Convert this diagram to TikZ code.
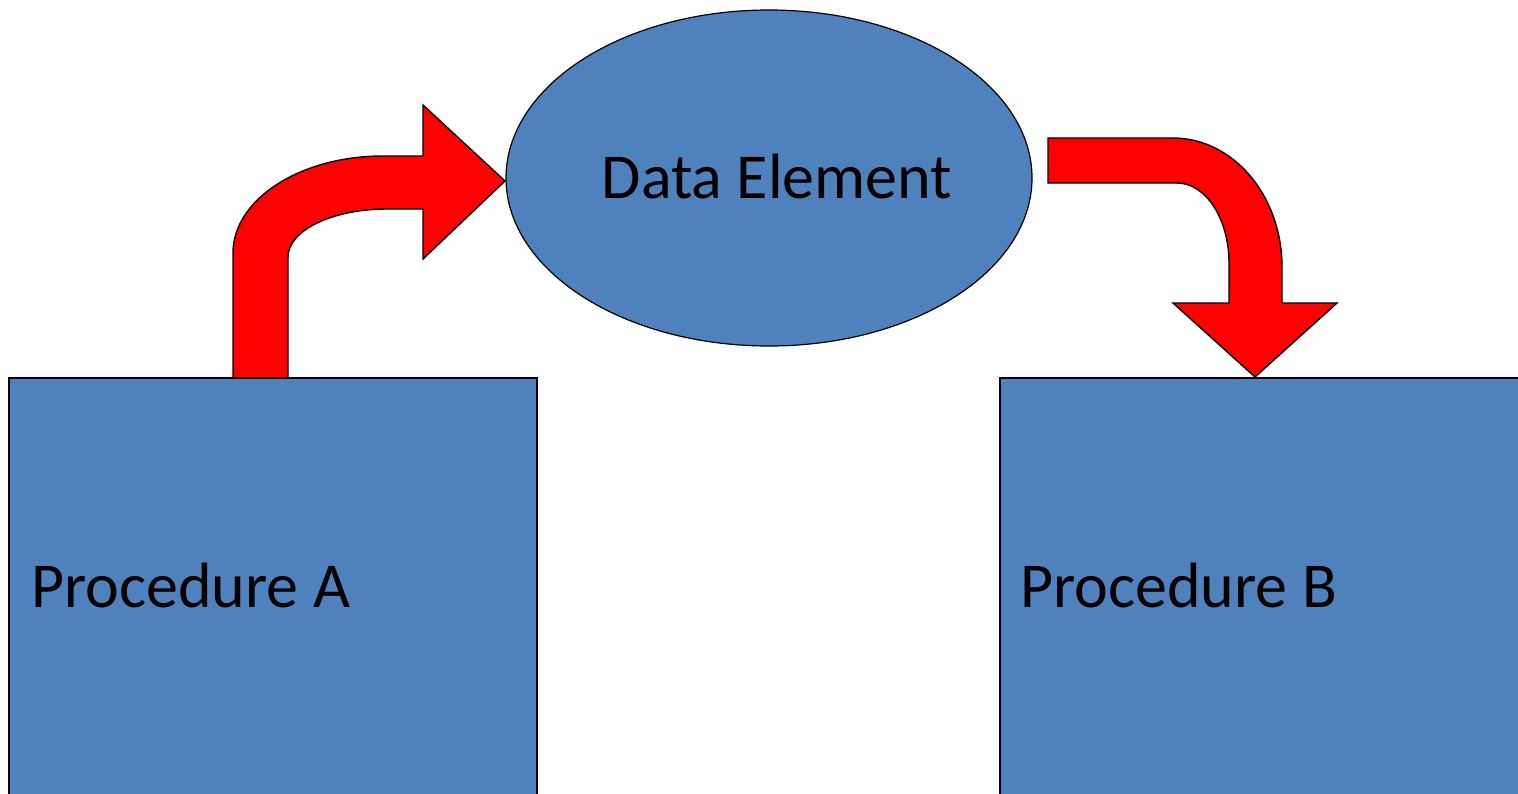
\documentclass[tikz,border=0pt]{standalone}
\usepackage{fontspec}
\setmainfont{Carlito}
\usetikzlibrary{shapes.geometric}
\definecolor{procblue}{HTML}{4F81BD}
\tikzset{
  procbox/.style={rectangle,draw,line width=2pt,fill=procblue,outer sep=0pt,anchor=north west},
  dataelem/.style={ellipse,draw,line width=1.2pt,fill=procblue,outer sep=0pt,
    minimum width=526pt,minimum height=336pt},
  lbl/.style={inner sep=0pt,font=\fontsize{64pt}{76pt}\selectfont},
  flow/.style={draw,line width=1.4pt,fill=red,line join=miter}
}
\begin{document}
\begin{tikzpicture}[x=1pt,y=-1pt]
  \useasboundingbox (0,0) rectangle (1518,793);
  \clip (0,0) rectangle (1518,793);

  % Coordinates
  \coordinate (tailA) at (233,378);
  \coordinate (tipA) at (505,181);
  \coordinate (tailB) at (1048,138);
  \coordinate (tipB) at (1255,377);

  % Procedures
  \node[procbox,minimum width=528pt,minimum height=480pt] (procA) at (9,378) {};
  \node[procbox,minimum width=560pt,minimum height=480pt] (procB) at (1000,378) {};
  \node[lbl,anchor=base west] (labA) at (31,607) {Procedure A};
  \node[lbl,anchor=base west] (labB) at (1020,607) {Procedure B};

  % Data element
  \node[dataelem] (data) at (769,178) {};
  \node[lbl,anchor=base] (labD) at (777,198) {Data Element};

  % Arrow from A to the data element
  \draw[flow] (tailA) -- (233,253) .. controls (233,199.4) and (300.2,156) .. (383,156)
    -- (423,156) -- (423,105) -- (tipA) -- (423,259) -- (423,209) -- (387,209)
    .. controls (332.3,209) and (288,230.5) .. (288,257) -- (288,378) -- cycle;

  % Arrow from the data element to B
  \draw[flow] (tailB) -- (1173,138) .. controls (1233.2,138) and (1282,195.8) .. (1282,267)
    -- (1282,303) -- (1337,303) -- (tipB) -- (1173,303) -- (1229,303) -- (1229,263)
    .. controls (1229,218.8) and (1205.7,183) .. (1177,183) -- (1048,183) -- cycle;

\end{tikzpicture}
\end{document}
